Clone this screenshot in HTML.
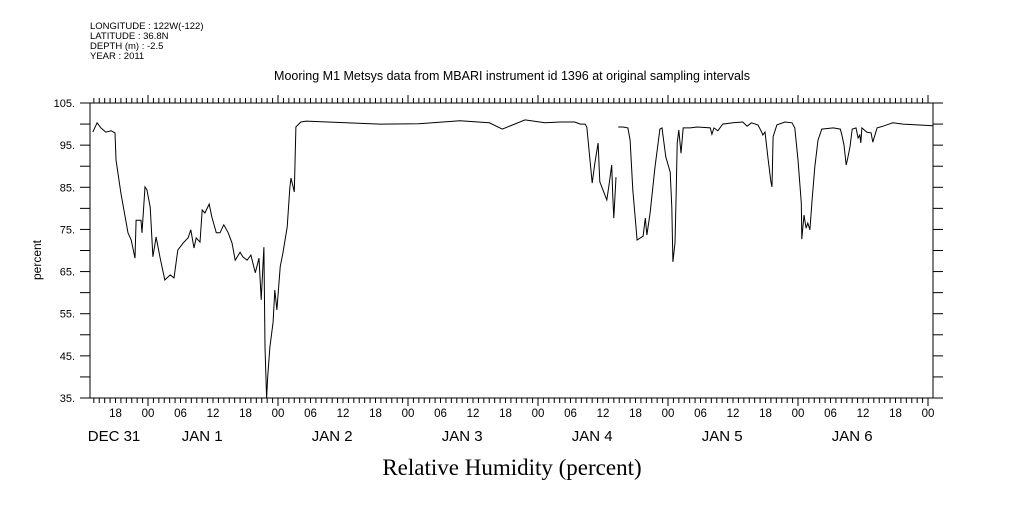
<!DOCTYPE html>
<html><head><meta charset="utf-8"><style>
body{margin:0;background:#fff}
svg text{font-family:"Liberation Sans",sans-serif;fill:#000}
</style></head><body>
<svg width="1009" height="504" viewBox="0 0 1009 504" xmlns="http://www.w3.org/2000/svg">
<g>
<text x="90" y="29" style="font-size:9.5px">LONGITUDE : 122W(-122)</text>
<text x="90" y="39" style="font-size:9.5px">LATITUDE : 36.8N</text>
<text x="90" y="49" style="font-size:9.5px">DEPTH (m) : -2.5</text>
<text x="90" y="59" style="font-size:9.5px">YEAR : 2011</text>
</g>
<text x="512" y="80" text-anchor="middle" style="font-size:12.5px">Mooring M1 Metsys data from MBARI instrument id 1396 at original sampling intervals</text>
<text transform="translate(41,260) rotate(-90)" text-anchor="middle" style="font-size:12px">percent</text>
<text x="512" y="475" text-anchor="middle" style="font-family:'Liberation Serif',serif;font-size:23px">Relative Humidity (percent)</text>
<g id="axes"></g>
<path id="series" fill="none" stroke="#000" stroke-width="1"/>
</svg>
<script>
const hours=[-10.2,-9.4,-8.7,-7.8,-6.8,-6.1,-5.9,-5.0,-3.7,-3.1,-2.4,-2.2,-1.3,-1.1,-0.55,-0.2,0.4,0.9,1.5,2.2,3.1,4.1,4.8,5.5,6.5,7.4,7.9,8.5,8.9,9.6,10.0,10.5,11.3,11.8,12.6,13.3,14.0,14.8,15.5,16.1,17.0,17.5,18.3,19.0,19.8,20.5,20.9,21.4,21.6,21.9,22.1,22.5,23.1,23.4,23.8,24.4,24.9,25.7,26.2,26.4,27.0,27.3,28.2,29.2,42.8,50,57.6,63,65.4,69.6,73.3,76.1,78.8,79.8,80.7,81.0,82.0,82.5,83.1,83.4,84.7,85.1,85.6,85.8,86.0,86.4,null,86.8,87.7,88.6,89.0,89.5,90.3,91.4,91.8,92.1,92.7,93.6,94.5,94.9,95.6,96.4,96.7,96.9,97.3,97.5,97.7,98.0,98.4,98.8,100.1,101.4,103.8,104.1,104.5,105.2,106.1,108.0,109.8,110.6,111.4,112.6,113.3,113.5,113.9,114.5,115.0,115.2,115.4,116.1,117.6,118.9,119.4,120.0,120.6,120.7,121.1,121.5,121.8,122.2,122.6,123.1,123.7,124.4,126.5,127.8,128.1,128.5,128.9,129.2,129.6,130.0,130.7,131.1,131.4,131.6,131.8,132.7,133.5,133.8,134.6,135.7,137.5,139.4,142.0,144.9];
const humidity=[98.1,100.3,99.1,98.1,98.4,97.9,91.5,83.6,74.2,72.5,68.2,77.2,77.2,74.2,85.1,84.4,80.3,68.5,73.2,68.5,63.0,64.2,63.5,70.1,71.8,73.0,74.9,70.6,73.0,72.0,79.6,78.9,81.0,77.9,74.2,74.2,76.1,74.2,71.8,67.7,69.6,68.5,67.7,68.9,64.7,68.2,58.3,70.8,47.1,35.0,40.0,47.1,53.0,60.6,55.9,66.1,69.4,75.6,85.1,87.2,83.9,99.3,100.5,100.7,100.0,100.1,100.8,100.3,98.8,101.0,100.3,100.5,100.5,100.0,100.0,99.3,86.0,90.8,95.5,86.3,82.0,85.5,90.3,82.7,77.7,87.4,null,99.3,99.3,99.1,96.2,84.4,72.5,73.4,77.7,73.7,78.9,89.8,98.8,99.1,92.2,88.6,80.3,67.3,71.8,82.7,95.5,98.6,93.1,99.1,99.1,99.3,99.1,97.6,99.1,98.4,100.0,100.3,100.5,99.5,100.3,99.8,98.1,97.4,98.1,91.5,86.3,85.1,97.0,99.8,100.5,100.3,99.1,91.5,81.3,72.7,78.4,75.3,76.5,74.9,82.0,89.8,96.2,98.8,99.1,98.8,97.4,95.0,90.3,92.0,94.6,98.8,99.1,96.7,97.4,95.5,99.1,98.1,97.9,95.7,99.1,99.5,100.3,100.0,99.8,99.6];
const yTicks=[35,45,55,65,75,85,95,105];
const hourLabels=["18","00","06","12"];
const dateLabels=["JAN  1","JAN  2","JAN  3","JAN  4","JAN  5","JAN  6"];
const X0=90,X1=933,Y0=398,Y1=103,ymin=35,ymax=105;
const xs=h=>148+h*(130/24);
const ys=v=>Y0-(v-ymin)/(ymax-ymin)*(Y0-Y1);
const NS="http://www.w3.org/2000/svg";
const g=document.getElementById('axes');
function ln(x1,y1,x2,y2,name){const l=document.createElementNS(NS,'line');l.setAttribute('x1',x1);l.setAttribute('y1',y1);l.setAttribute('x2',x2);l.setAttribute('y2',y2);l.setAttribute('stroke','#000');l.setAttribute('stroke-width','1');


g.appendChild(l);}
function tx(x,y,s,size,anchor,name){const t=document.createElementNS(NS,'text');t.setAttribute('x',x);t.setAttribute('y',y);t.setAttribute('text-anchor',anchor);t.style.fontSize=size+'px';t.textContent=s;


g.appendChild(t);}
ln(X0,Y1,X1,Y1,'top-axis');ln(X0,Y0,X1+10,Y0,'x-axis');ln(X0,Y1,X0,Y0,'y-axis');ln(X1,Y1,X1,Y0,'right-axis');
for(let v=35;v<=105;v+=5){const y=ys(v);ln(X0-10,y,X0,y,'y-tick');ln(X1,y,X1+10,y,'y-tick-right');}
yTicks.forEach(v=>tx(75,ys(v)+4,v+'.',11,'end','y-tick-label'));
for(let h=-10;h<=144;h++){const x=xs(h);const day=(h%24===0);const L=day?8:5;
ln(x,Y0,x,Y0+L,'x-tick');ln(x,Y1,x,Y1-L,'x-tick-top');
if(h%6===0){const idx=((h%24)+24)%24/6;tx(x,417,hourLabels[(idx+1)%4],11.5,'middle','hour-label');}}
tx(114,441,'DEC 31',15,'middle','date-label');
dateLabels.forEach((s,i)=>tx(xs(24*i+10),441,s,15,'middle','date-label'));
let d='',pen=false;
hours.forEach((h,i)=>{const v=humidity[i];if(h===null||v===null){pen=false;return;}d+=(pen?'L':'M')+xs(h).toFixed(1)+' '+ys(v).toFixed(1);pen=true;});
document.getElementById('series').setAttribute('d',d);
</script>
</body></html>
